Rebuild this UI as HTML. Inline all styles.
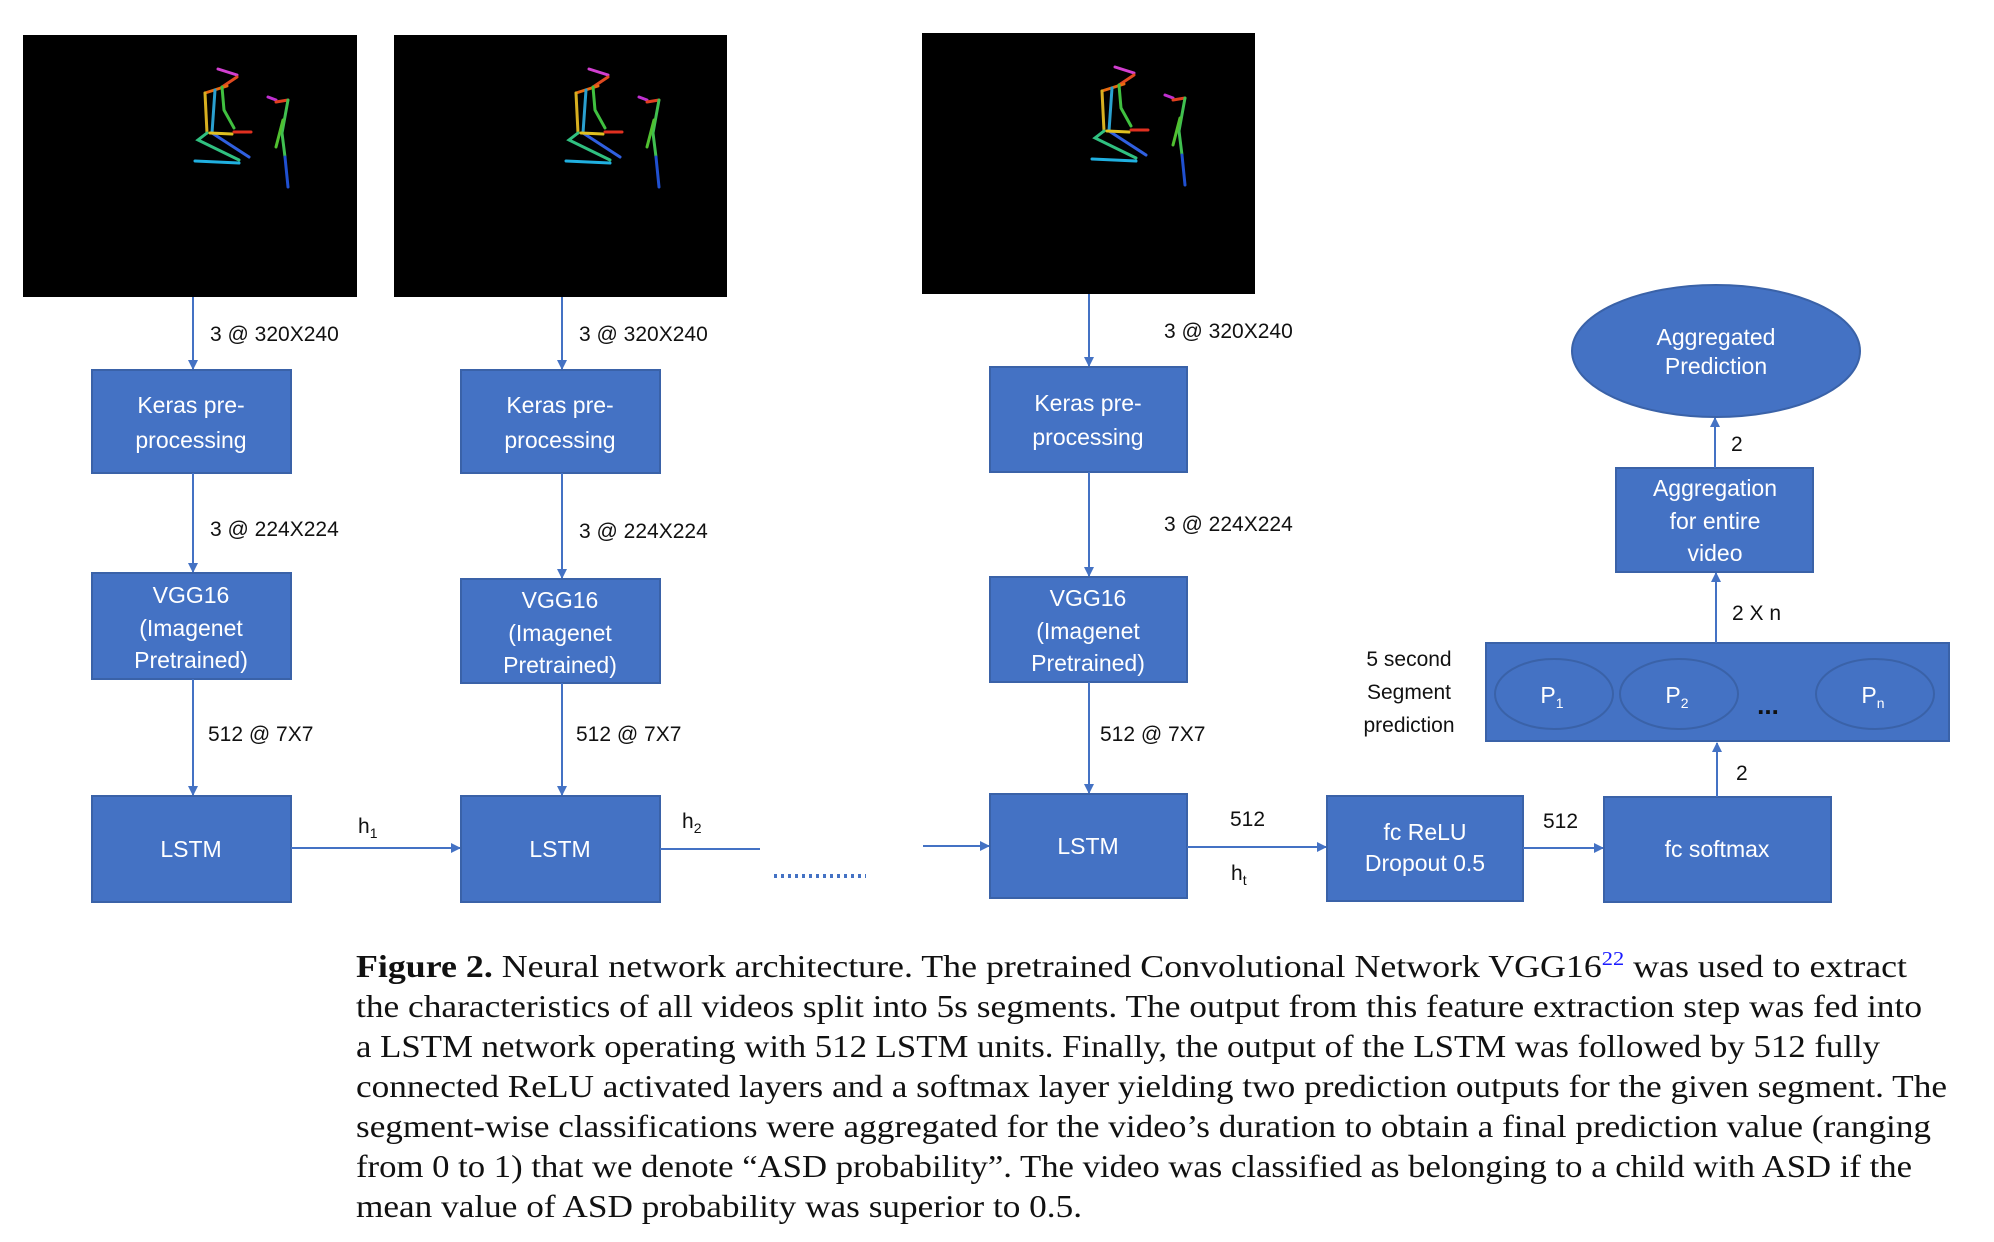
<!DOCTYPE html>
<html><head><meta charset="utf-8"><style>
html,body{margin:0;padding:0;background:#fff;}
svg{display:block;}
.b{fill:#4472C4;stroke:#3A62A8;stroke-width:2;}
.t{fill:#fff;font-family:"Liberation Sans",sans-serif;font-size:23px;text-anchor:middle;}
.l{fill:#111;font-family:"Liberation Sans",sans-serif;font-size:21px;}
.a{stroke:#4472C4;stroke-width:2;fill:none;}
.c{font-family:"Liberation Serif",serif;font-size:32px;fill:#111;}
</style></head><body>
<svg width="1994" height="1242" viewBox="0 0 1994 1242" xmlns="http://www.w3.org/2000/svg">
<defs>
<marker id="ar" markerWidth="10" markerHeight="10" refX="9" refY="5" orient="auto" markerUnits="userSpaceOnUse">
<path d="M0,0 L10,5 L0,10 z" fill="#4472C4"/></marker>
<g id="sk" stroke-width="3" fill="none" stroke-linecap="round">
<path d="M195,34 L214,40" stroke="#d23fd0"/>
<path d="M214,42 L199,52" stroke="#e04a20"/>
<path d="M182,58 L204,51" stroke="#e86a10"/>
<path d="M182,58 L184,98" stroke="#d8b020"/>
<path d="M192,55 L189,98" stroke="#2aa0d0"/>
<path d="M199,52 L201,75 L211,93" stroke="#40c040"/>
<path d="M184,98 L175,105 L216,125" stroke="#30c080"/>
<path d="M189,98 L226,122" stroke="#3060e0"/>
<path d="M172,126 L216,128" stroke="#20b0e0"/>
<path d="M187,98 L209,99" stroke="#e0c020"/>
<path d="M211,97 L228,97" stroke="#e03020"/>
<path d="M245,62 L253,65" stroke="#c030d0"/>
<path d="M253,67 L265,65" stroke="#e04020"/>
<path d="M265,65 L259,98 L262,122" stroke="#40c050"/>
<path d="M260,85 L253,112" stroke="#50c030"/>
<path d="M262,122 L265,152" stroke="#2050d0"/>
</g>
</defs>

<!-- images -->
<rect x="23" y="35" width="334" height="262" fill="#000"/>
<use href="#sk" transform="translate(23,35)"/>
<rect x="394" y="35" width="333" height="262" fill="#000"/>
<use href="#sk" transform="translate(394,35)"/>
<rect x="922" y="33" width="333" height="261" fill="#000"/>
<use href="#sk" transform="translate(920,33)"/>

<!-- column 1 -->
<line class="a" x1="193" y1="297" x2="193" y2="369" marker-end="url(#ar)"/>
<text class="l" x="210" y="341">3 @ 320X240</text>
<rect class="b" x="92" y="370" width="199" height="103"/>
<text class="t" x="191" y="413">Keras pre-</text><text class="t" x="191" y="448">processing</text>
<line class="a" x1="193" y1="473" x2="193" y2="572" marker-end="url(#ar)"/>
<text class="l" x="210" y="536">3 @ 224X224</text>
<rect class="b" x="92" y="573" width="199" height="106"/>
<text class="t" x="191" y="603">VGG16</text><text class="t" x="191" y="636">(Imagenet</text><text class="t" x="191" y="668">Pretrained)</text>
<line class="a" x1="193" y1="679" x2="193" y2="795" marker-end="url(#ar)"/>
<text class="l" x="208" y="741">512 @ 7X7</text>
<rect class="b" x="92" y="796" width="199" height="106"/>
<text class="t" x="191" y="857">LSTM</text>
<line class="a" x1="291" y1="848" x2="460" y2="848" marker-end="url(#ar)"/>
<text class="l" x="358" y="833">h<tspan font-size="14" dy="5">1</tspan></text>

<!-- column 2 -->
<line class="a" x1="562" y1="297" x2="562" y2="369" marker-end="url(#ar)"/>
<text class="l" x="579" y="341">3 @ 320X240</text>
<rect class="b" x="461" y="370" width="199" height="103"/>
<text class="t" x="560" y="413">Keras pre-</text><text class="t" x="560" y="448">processing</text>
<line class="a" x1="562" y1="473" x2="562" y2="578" marker-end="url(#ar)"/>
<text class="l" x="579" y="538">3 @ 224X224</text>
<rect class="b" x="461" y="579" width="199" height="104"/>
<text class="t" x="560" y="608">VGG16</text><text class="t" x="560" y="641">(Imagenet</text><text class="t" x="560" y="673">Pretrained)</text>
<line class="a" x1="562" y1="683" x2="562" y2="795" marker-end="url(#ar)"/>
<text class="l" x="576" y="741">512 @ 7X7</text>
<rect class="b" x="461" y="796" width="199" height="106"/>
<text class="t" x="560" y="857">LSTM</text>
<line class="a" x1="660" y1="849" x2="760" y2="849"/>
<text class="l" x="682" y="828">h<tspan font-size="14" dy="5">2</tspan></text>
<line x1="774" y1="876" x2="866" y2="876" stroke="#4472C4" stroke-width="4" stroke-dasharray="3,4"/>

<!-- column 3 -->
<line class="a" x1="1089" y1="294" x2="1089" y2="366" marker-end="url(#ar)"/>
<text class="l" x="1164" y="338">3 @ 320X240</text>
<rect class="b" x="990" y="367" width="197" height="105"/>
<text class="t" x="1088" y="411">Keras pre-</text><text class="t" x="1088" y="445">processing</text>
<line class="a" x1="1089" y1="472" x2="1089" y2="576" marker-end="url(#ar)"/>
<text class="l" x="1164" y="531">3 @ 224X224</text>
<rect class="b" x="990" y="577" width="197" height="105"/>
<text class="t" x="1088" y="606">VGG16</text><text class="t" x="1088" y="639">(Imagenet</text><text class="t" x="1088" y="671">Pretrained)</text>
<line class="a" x1="1089" y1="682" x2="1089" y2="793" marker-end="url(#ar)"/>
<text class="l" x="1100" y="741">512 @ 7X7</text>
<line class="a" x1="923" y1="846" x2="989" y2="846" marker-end="url(#ar)"/>
<rect class="b" x="990" y="794" width="197" height="104"/>
<text class="t" x="1088" y="854">LSTM</text>
<line class="a" x1="1187" y1="847" x2="1326" y2="847" marker-end="url(#ar)"/>
<text class="l" x="1230" y="826">512</text>
<text class="l" x="1231" y="880">h<tspan font-size="14" dy="5">t</tspan></text>

<rect class="b" x="1327" y="796" width="196" height="105"/>
<text class="t" x="1425" y="840">fc ReLU</text><text class="t" x="1425" y="871">Dropout  0.5</text>
<line class="a" x1="1523" y1="848" x2="1603" y2="848" marker-end="url(#ar)"/>
<text class="l" x="1543" y="828">512</text>
<rect class="b" x="1604" y="797" width="227" height="105"/>
<text class="t" x="1717" y="857">fc softmax</text>
<line class="a" x1="1717" y1="797" x2="1717" y2="743" marker-end="url(#ar)"/>
<text class="l" x="1736" y="780">2</text>

<text class="l" x="1409" y="666" text-anchor="middle" font-size="23">5 second</text>
<text class="l" x="1409" y="699" text-anchor="middle" font-size="23">Segment</text>
<text class="l" x="1409" y="732" text-anchor="middle" font-size="23">prediction</text>

<rect class="b" x="1486" y="643" width="463" height="98"/>
<ellipse cx="1554" cy="694" rx="59" ry="35" fill="none" stroke="#3A62A8" stroke-width="2"/>
<ellipse cx="1679" cy="694" rx="59" ry="35" fill="none" stroke="#3A62A8" stroke-width="2"/>
<ellipse cx="1875" cy="694" rx="59" ry="35" fill="none" stroke="#3A62A8" stroke-width="2"/>
<text class="t" x="1552" y="703">P<tspan font-size="14" dy="5">1</tspan></text>
<text class="t" x="1677" y="703">P<tspan font-size="14" dy="5">2</tspan></text>
<text class="t" x="1873" y="703">P<tspan font-size="14" dy="5">n</tspan></text>
<text x="1768" y="714" font-family="Liberation Sans,sans-serif" font-size="26" font-weight="bold" text-anchor="middle" fill="#111">...</text>

<line class="a" x1="1716" y1="643" x2="1716" y2="573" marker-end="url(#ar)"/>
<text class="l" x="1732" y="620">2 X n</text>
<rect class="b" x="1616" y="468" width="197" height="104"/>
<text class="t" x="1715" y="496">Aggregation</text><text class="t" x="1715" y="529">for entire</text><text class="t" x="1715" y="561">video</text>
<line class="a" x1="1715" y1="468" x2="1715" y2="418" marker-end="url(#ar)"/>
<text class="l" x="1731" y="451">2</text>
<ellipse cx="1716" cy="351" rx="144" ry="66" fill="#4472C4" stroke="#3A62A8" stroke-width="2"/>
<text class="t" x="1716" y="345">Aggregated</text><text class="t" x="1716" y="374">Prediction</text>

<!-- caption -->
<text class="c" x="356" y="977" textLength="1551" lengthAdjust="spacingAndGlyphs"><tspan font-weight="bold">Figure 2.</tspan>   Neural network architecture. The pretrained Convolutional Network VGG16<tspan fill="#1a1aff" font-size="20" dy="-12">22</tspan><tspan dy="12"> was used to extract</tspan></text>
<text class="c" x="356" y="1017" textLength="1566" lengthAdjust="spacingAndGlyphs">the characteristics of all videos split into 5s segments. The output from this feature extraction step was fed into</text>
<text class="c" x="356" y="1057" textLength="1524" lengthAdjust="spacingAndGlyphs">a LSTM network operating with 512 LSTM units. Finally, the output of the LSTM was followed by 512 fully</text>
<text class="c" x="356" y="1097" textLength="1591" lengthAdjust="spacingAndGlyphs">connected ReLU activated layers and a softmax layer yielding two prediction outputs for the given segment. The</text>
<text class="c" x="356" y="1137" textLength="1575" lengthAdjust="spacingAndGlyphs">segment-wise classifications were aggregated for the video’s duration to obtain a final prediction value (ranging</text>
<text class="c" x="356" y="1177" textLength="1556" lengthAdjust="spacingAndGlyphs">from 0 to 1) that we denote “ASD probability”. The video was classified as belonging to a child with ASD if the</text>
<text class="c" x="356" y="1217" textLength="726" lengthAdjust="spacingAndGlyphs">mean value of ASD probability was superior to 0.5.</text>
</svg>
</body></html>
